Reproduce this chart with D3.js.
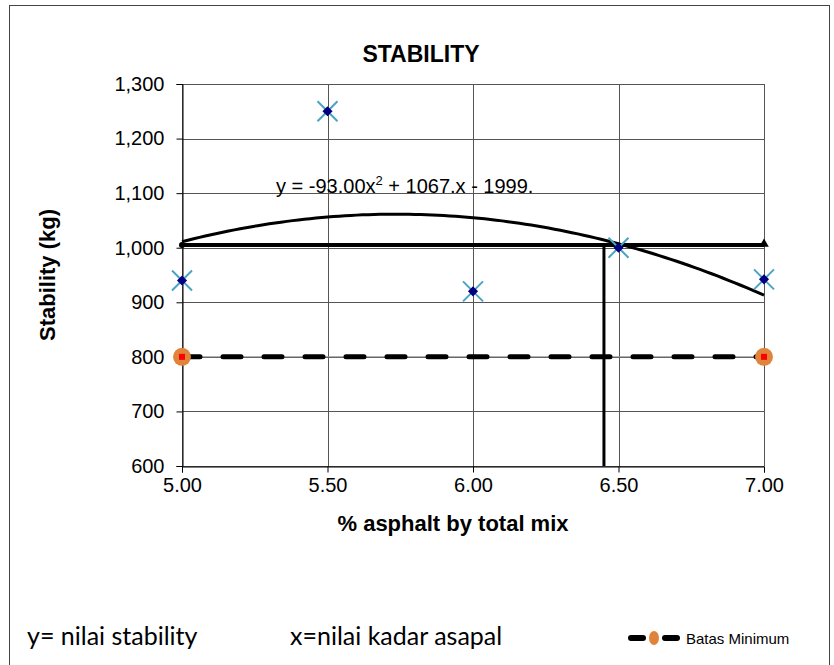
<!DOCTYPE html>
<html>
<head>
<meta charset="utf-8">
<script src="https://cdn.jsdelivr.net/npm/d3@7"></script>
<style>
  body { margin: 0; background: #fff; }
  svg { display: block; }
</style>
</head>
<body>
<svg id="chart" width="834" height="665"></svg>
<script>
// Chart data
var asphalt = [5.00, 5.50, 6.00, 6.50, 7.00];
var stability = [940, 1250, 920, 1000, 942];
var xTicks = [5.00, 5.50, 6.00, 6.50, 7.00];
var yTicks = [600, 700, 800, 900, 1000, 1100, 1200, 1300];
var trendCoef = [-93.00, 1067, -1999];   // y = a x^2 + b x + c
var limitX = [5.00, 7.00];
var limitY = [800, 800];
var optimumX = 6.45;
var optimumY = 1005;

var svg = d3.select("#chart"),
    font = "'Liberation Sans', Arial, sans-serif";

// Plot area
var plotLeft = 182, plotRight = 764, plotTop = 84, plotBottom = 466;

var x = d3.scaleLinear().domain([5, 7]).range([plotLeft, plotRight]);
var y = d3.scaleLinear().domain([600, 1300]).range([plotBottom, plotTop]);

// outer border
svg.append("rect")
    .attr("x", 9.5).attr("y", 5.5)
    .attr("width", 820).attr("height", 680)
    .attr("fill", "none").attr("stroke", "#444").attr("stroke-width", 1);

// grid
svg.append("g").selectAll("line").data(yTicks).join("line")
    .attr("x1", plotLeft).attr("x2", plotRight)
    .attr("y1", function(d) { return Math.round(y(d)) + 0.5; })
    .attr("y2", function(d) { return Math.round(y(d)) + 0.5; })
    .attr("stroke", "#555").attr("stroke-width", 1);
svg.append("g").selectAll("line").data(xTicks).join("line")
    .attr("x1", function(d) { return Math.round(x(d)) + 0.5; })
    .attr("x2", function(d) { return Math.round(x(d)) + 0.5; })
    .attr("y1", plotTop).attr("y2", plotBottom)
    .attr("stroke", "#555").attr("stroke-width", 1);

// axes
var yAxis = svg.append("g")
    .attr("transform", "translate(" + (plotLeft + 0.5) + ",0)")
    .call(d3.axisLeft(y).tickValues(yTicks).tickSize(6).tickPadding(12).tickFormat(d3.format(",")));
var xAxis = svg.append("g")
    .attr("transform", "translate(0," + (plotBottom + 0.5) + ")")
    .call(d3.axisBottom(x).tickValues(xTicks).tickSize(6).tickPadding(5).tickFormat(d3.format(".2f")));
[yAxis, xAxis].forEach(function(g) {
  g.select(".domain").attr("stroke", "#000");
  g.selectAll(".tick line").attr("stroke", "#000");
  g.selectAll(".tick text").attr("font-family", font).attr("font-size", 20).attr("fill", "#000");
});

// Batas minimum (dashed) line
var limitLine = d3.line()
    .x(function(d, i) { return x(limitX[i]); })
    .y(function(d) { return y(d); });
svg.append("path").datum(limitY)
    .attr("d", limitLine)
    .attr("stroke", "#888").attr("stroke-width", 1).attr("fill", "none");
svg.append("path").datum(limitY)
    .attr("d", limitLine)
    .attr("stroke", "#000").attr("stroke-width", 5)
    .attr("stroke-linecap", "round")
    .attr("stroke-dasharray", "18 23")
    .attr("fill", "none");

// optimum lines
svg.append("line")
    .attr("x1", x(5)).attr("x2", x(7))
    .attr("y1", y(optimumY)).attr("y2", y(optimumY))
    .attr("stroke", "#000").attr("stroke-width", 4);
svg.append("line")
    .attr("x1", x(optimumX)).attr("x2", x(optimumX))
    .attr("y1", y(optimumY)).attr("y2", y(600))
    .attr("stroke", "#000").attr("stroke-width", 3);
svg.append("path")
    .attr("d", d3.symbol(d3.symbolTriangle, 40)())
    .attr("transform", "translate(" + x(7) + "," + (y(optimumY) - 1) + ")")
    .attr("fill", "#000");
svg.append("circle")
    .attr("cx", x(5)).attr("cy", y(optimumY)).attr("r", 3)
    .attr("fill", "#000");

// polynomial trendline
var trendXs = d3.range(0, 101).map(function(i) { return 5 + i * 0.02; });
svg.append("path")
    .datum(trendXs)
    .attr("d", d3.line()
        .x(function(d) { return x(d); })
        .y(function(d) { return y(trendCoef[0] * d * d + trendCoef[1] * d + trendCoef[2]); }))
    .attr("stroke", "#000").attr("stroke-width", 3).attr("fill", "none");

// limit end markers
svg.append("g").selectAll("circle").data(limitY).join("circle")
    .attr("cx", function(d, i) { return x(limitX[i]); })
    .attr("cy", function(d) { return y(d); })
    .attr("r", 9).attr("fill", "#E0843C");
svg.append("g").selectAll("rect").data(limitY).join("rect")
    .attr("x", function(d, i) { return x(limitX[i]) - 3; })
    .attr("y", function(d) { return y(d) - 3; })
    .attr("width", 6).attr("height", 6).attr("fill", "#FF0000");

// data points: teal X with navy diamond
var pts = svg.append("g").selectAll("g").data(stability).join("g")
    .attr("transform", function(d, i) { return "translate(" + x(asphalt[i]) + "," + y(d) + ")"; });
pts.append("path")
    .attr("d", "M-10,-10L10,10M-10,10L10,-10")
    .attr("stroke", "#4BA3C3").attr("stroke-width", 2);
pts.append("path")
    .attr("d", d3.symbol(d3.symbolDiamond2, 65)())
    .attr("fill", "#000080");

// equation label
var eq = svg.append("text")
    .attr("x", 276).attr("y", 193)
    .attr("font-family", font).attr("font-size", 20).attr("fill", "#000");
eq.append("tspan").text("y = -93.00x");
eq.append("tspan").attr("font-size", 13).attr("dy", -8).text("2");
eq.append("tspan").attr("dy", 8).text(" + 1067.x - 1999.");

// titles
svg.append("text")
    .attr("x", 421).attr("y", 62)
    .attr("text-anchor", "middle")
    .attr("font-family", font).attr("font-size", 23).attr("font-weight", "bold")
    .text("STABILITY");
svg.append("text")
    .attr("transform", "translate(55," + ((plotTop + plotBottom) / 2) + ") rotate(-90)")
    .attr("text-anchor", "middle")
    .attr("font-family", font).attr("font-size", 22).attr("font-weight", "bold")
    .text("Stability (kg)");
svg.append("text")
    .attr("x", 453).attr("y", 531)
    .attr("text-anchor", "middle")
    .attr("font-family", font).attr("font-size", 22).attr("font-weight", "bold")
    .text("% asphalt by total mix");

// bottom notes
svg.append("text")
    .attr("x", 27).attr("y", 645)
    .attr("font-family", "Lato, sans-serif").attr("font-size", 25)
    .text("y= nilai stability");
svg.append("text")
    .attr("x", 290).attr("y", 645)
    .attr("font-family", "Lato, sans-serif").attr("font-size", 25)
    .text("x=nilai kadar asapal");

// legend
var lg = svg.append("g").attr("transform", "translate(0,638)");
lg.append("line")
    .attr("x1", 631).attr("x2", 677)
    .attr("stroke", "#000").attr("stroke-width", 6)
    .attr("stroke-linecap", "round").attr("stroke-dasharray", "12 22");
lg.append("ellipse")
    .attr("cx", 654).attr("rx", 5).attr("ry", 7).attr("fill", "#E0843C");
lg.append("text")
    .attr("x", 686).attr("y", 6)
    .attr("font-family", font).attr("font-size", 15)
    .text("Batas Minimum");
</script>
</body>
</html>
